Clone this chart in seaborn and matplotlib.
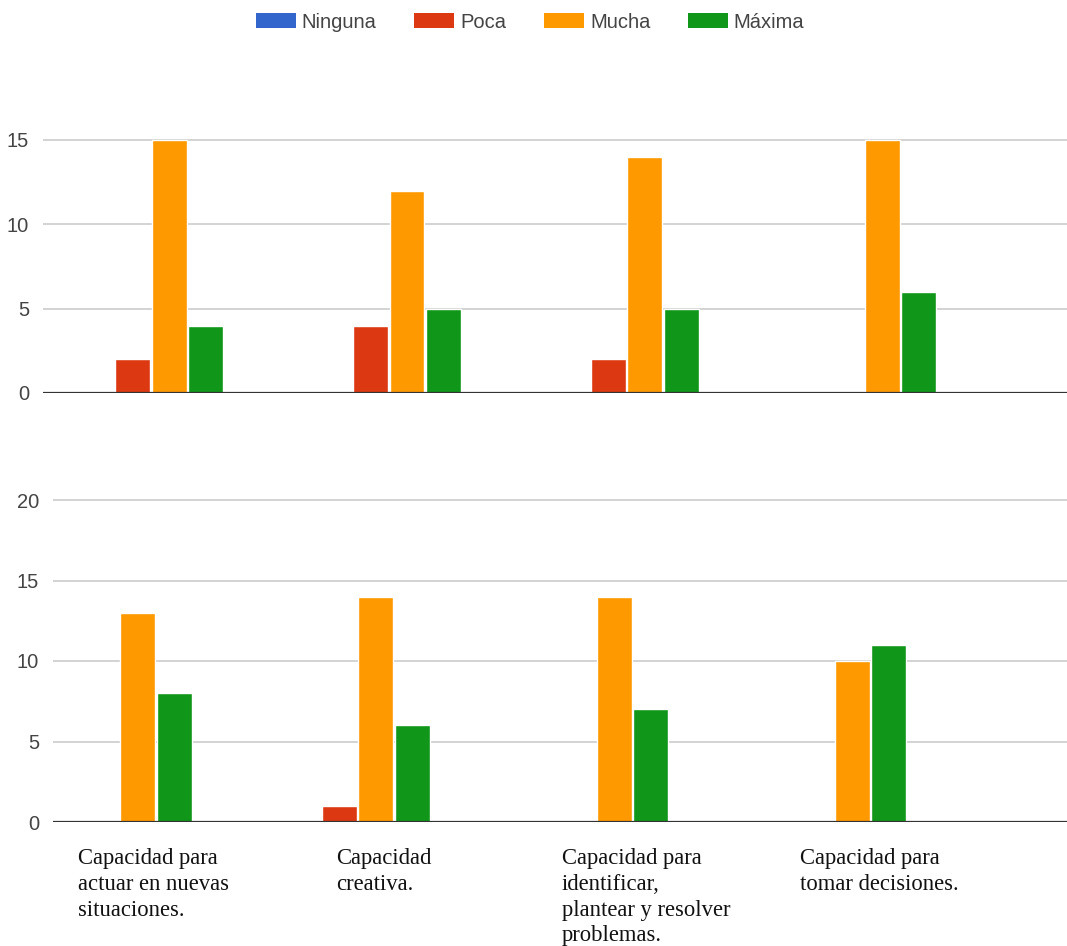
import numpy as np
import pandas as pd
import matplotlib
matplotlib.use("Agg")
import matplotlib.pyplot as plt
import seaborn as sns

# Response levels and their colours
levels = ["Ninguna", "Poca", "Mucha", "Máxima"]
level_colors = ["#3366cc", "#dc3912", "#ff9900", "#109618"]

# Competences (shared by both panels)
competences = [
    "Capacidad para\nactuar en nuevas\nsituaciones.",
    "Capacidad\ncreativa.",
    "Capacidad para\nidentificar,\nplantear y resolver\nproblemas.",
    "Capacidad para\ntomar decisiones.",
]

# Upper panel counts per level
top_ninguna = [0, 0, 0, 0]
top_poca = [2, 4, 2, 0]
top_mucha = [15, 12, 14, 15]
top_maxima = [4, 5, 5, 6]

# Lower panel counts per level
bot_ninguna = [0, 0, 0, 0]
bot_poca = [0, 1, 0, 0]
bot_mucha = [13, 14, 14, 10]
bot_maxima = [8, 6, 7, 11]

top_ticks = [0, 5, 10, 15]
bot_ticks = [0, 5, 10, 15, 20]


def to_long(ninguna, poca, mucha, maxima):
    rows = []
    for series, lvl in zip([ninguna, poca, mucha, maxima], levels):
        for i, v in enumerate(series):
            rows.append({"comp": i, "nivel": lvl, "valor": v})
    return pd.DataFrame(rows)


df_top = to_long(top_ninguna, top_poca, top_mucha, top_maxima)
df_bot = to_long(bot_ninguna, bot_poca, bot_mucha, bot_maxima)

sns.set_theme(style="white")
plt.rcParams["font.family"] = ["Liberation Sans", "DejaVu Sans"]

W, H = 1067, 946
fig = plt.figure(figsize=(W / 100, H / 100), dpi=100)


def px_axes(left, right, base_y, unit_px, ymax):
    top_y = base_y - ymax * unit_px
    return fig.add_axes([left / W, 1 - base_y / H, (right - left) / W, (base_y - top_y) / H])


ax_top = px_axes(43, W, 393, 16.87, 16.5)
ax_bot = px_axes(53, W, 822, 16.1, 21.0)

palette = dict(zip(levels, level_colors))

for ax, df, ymax, ticks, xlim in [
    (ax_top, df_top, 16.5, top_ticks, (-0.4544, 3.8536)),
    (ax_bot, df_bot, 21.0, bot_ticks, (-0.279, 3.978)),
]:
    sns.barplot(data=df, x="comp", y="valor", hue="nivel", hue_order=levels,
                palette=palette, width=0.615, gap=0.045, saturation=1,
                native_scale=True, errorbar=None, ax=ax, zorder=2)
    ax.set_xlim(*xlim)
    ax.set_ylim(0, ymax)
    ax.set_yticks(ticks)
    ax.set_yticklabels([str(t) for t in ticks])
    ax.set_xticks([])
    ax.set_xlabel("")
    ax.set_ylabel("")
    for s in ax.spines.values():
        s.set_visible(False)
    ax.yaxis.grid(True, color="#cccccc", linewidth=1.2)
    ax.set_axisbelow(True)
    ax.axhline(0, color="#333333", linewidth=1.6, zorder=3)
    ax.tick_params(axis="y", length=0, pad=10, labelsize=14.5, labelcolor="#444444")
    ax.patch.set_alpha(0)
    leg = ax.get_legend()
    if leg is not None:
        leg.remove()

# Shared legend across the top
handles = [plt.Rectangle((0, 0), 1, 1, facecolor=c, edgecolor="none") for c in level_colors]
fig.legend(handles, levels, loc="center", bbox_to_anchor=(530 / W, 1 - 22 / H),
           ncol=4, frameon=False, fontsize=14.5, labelcolor="#444444",
           handlelength=2.0, handleheight=0.75, handletextpad=0.3,
           columnspacing=1.85)

# Competence names under the lower panel
label_x = [78, 336, 562, 800]
for x, txt in zip(label_x, competences):
    fig.text(x / W, 1 - 848 / H, txt, ha="left", va="top",
             family=["Liberation Serif", "DejaVu Serif"], fontsize=16.3,
             color="#111111", linespacing=1.3)

fig.savefig("out.png", dpi=100, facecolor="white")
